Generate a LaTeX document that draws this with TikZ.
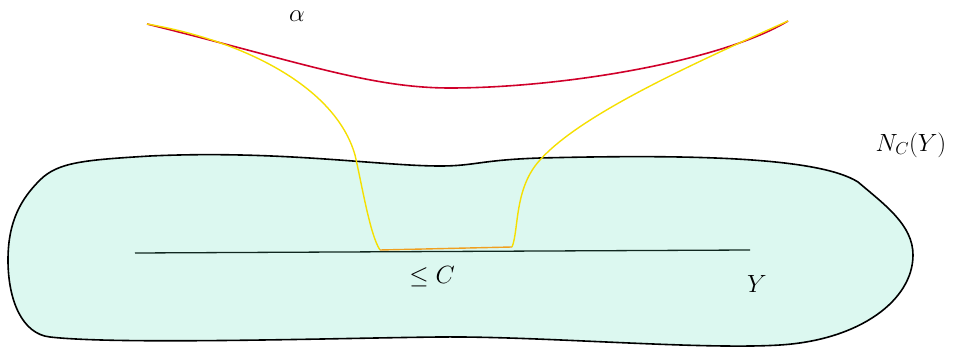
\documentclass[tikz,border=0pt]{standalone}
\usepackage{amssymb}
\definecolor{mint}{HTML}{DCF8F0}
\definecolor{alphared}{HTML}{D0002A}
\definecolor{pathyellow}{HTML}{F5DF00}
\definecolor{flatorange}{HTML}{F0A020}
\definecolor{lineY}{HTML}{102820}
\tikzset{
  blob/.style={draw=black, fill=mint, line width=1.6pt, line join=round},
  redcurve/.style={draw=alphared, line width=1.6pt},
  yellowcurve/.style={draw=pathyellow, line width=1.4pt},
  ylab/.style={font=\fontsize{27}{32}\selectfont, inner sep=0pt}
}
\begin{document}
\begin{tikzpicture}[x=1pt,y=-1pt]
\useasboundingbox (0,0) rectangle (954,347);
% neighbourhood
\draw[blob] (40,180) .. controls (58,162) and (85,160) .. (150,156)
  .. controls (280,150) and (380,166) .. (440,166)
  .. controls (475,166) and (480,160) .. (540,158)
  .. controls (700,154) and (820,158) .. (858,182)
  .. controls (885,205) and (913,225) .. (913,255)
  .. controls (913,300) and (860,340) .. (780,345)
  .. controls (700,350) and (540,336) .. (440,337)
  .. controls (340,338) and (120,345) .. (50,337)
  .. controls (22,334) and (8,300) .. (8,260)
  .. controls (8,220) and (22,198) .. (40,180) -- cycle;
% geodesic Y
\coordinate (y0) at (135,253);
\coordinate (y1) at (750,250);
\draw[lineY, line width=1.3pt] (y0) -- (y1);
% path alpha
\coordinate (a0) at (147,24);
\coordinate (amid) at (450,88);
\coordinate (a1) at (788,21);
\coordinate (p1) at (380,250);
\coordinate (p2) at (512,247);
\draw[redcurve] (a0) .. controls (300,62) and (370,88) .. (amid)
  .. controls (560,88) and (720,62) .. (a1);
\draw[yellowcurve] (a0) .. controls (240,40) and (335,85) .. (355,155)
  .. controls (362,185) and (370,235) .. (p1);
\draw[flatorange, line width=1.4pt] (p1) -- (p2);
\draw[yellowcurve] (p2) .. controls (519,230) and (514,188) .. (540,160)
  .. controls (580,115) and (690,65) .. (a1);
% labels
\node[ylab] (alab) at (297,16) {$\alpha$};
\node[ylab] (nlab) at (911,145) {$N_C(Y)$};
\node[ylab] (clab) at (432,277) {$\leq C$};
\node[ylab] (ylabel) at (757,284) {$Y$};
\end{tikzpicture}
\end{document}
